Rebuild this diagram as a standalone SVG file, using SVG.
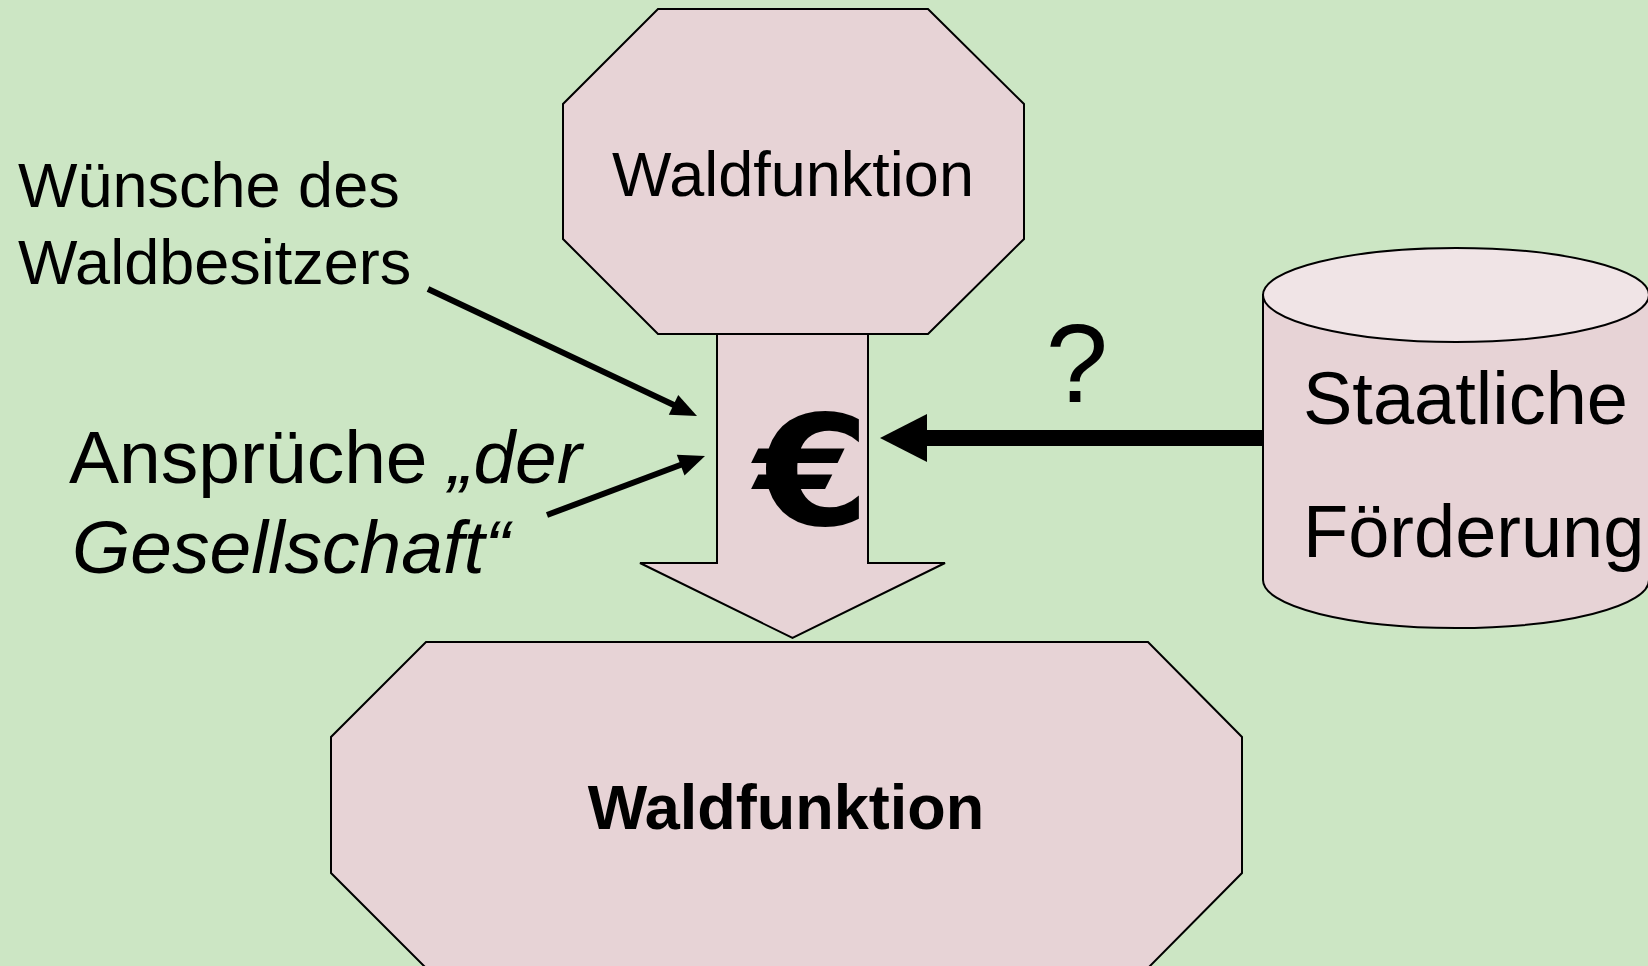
<svg xmlns="http://www.w3.org/2000/svg" width="1648" height="966" viewBox="0 0 1648 966">
<style>
.shape{fill:#E7D3D6;stroke:#000;stroke-width:2}
.top{fill:#F0E4E6;stroke:#000;stroke-width:2}
.t{font-family:"Liberation Sans",Arial,sans-serif;fill:#000}
.euro{font-family:"DejaVu Sans",sans-serif;font-weight:bold;fill:#000}
.conn{stroke:#000;stroke-width:6;fill:none}
.head{fill:#000}
</style>
<rect width="1648" height="966" fill="#CCE6C4"/>
<g id="node-waldfunktion-top">
<polygon class="shape" points="658,9 928,9 1024,104 1024,239 928,334 658,334 563,239 563,104"/>
<text class="t" x="793" y="196" font-size="63" text-anchor="middle">Waldfunktion</text>
</g>
<g id="node-arrow-euro">
<polygon class="shape" points="717,334 868,334 868,563 945,563 792.5,638 640,563 717,563"/>
<text class="euro" transform="translate(812,525) scale(1.08,1)" x="0" y="0" font-size="154" text-anchor="middle">€</text>
</g>
<g id="node-waldfunktion-bottom">
<polygon class="shape" points="426,642 1148,642 1242,737 1242,873 1148,968 426,968 331,873 331,737"/>
<text class="t" x="786" y="829" font-size="63" font-weight="bold" text-anchor="middle">Waldfunktion</text>
</g>
<g id="node-foerderung">
<path class="shape" d="M1263,295 L1263,580 A193,48 0 0 0 1649,580 L1649,295 Z"/>
<ellipse class="top" cx="1456" cy="295" rx="193" ry="47"/>
<text class="t" x="1303" y="424" font-size="74">Staatliche</text>
<text class="t" x="1303" y="557" font-size="74">Förderung</text>
</g>
<g id="label-wuensche">
<text class="t" x="18" y="207" font-size="63">Wünsche des</text>
<text class="t" x="18" y="284" font-size="63">Waldbesitzers</text>
</g>
<g id="label-ansprueche">
<text class="t" x="69" y="483" font-size="75">Ansprüche <tspan font-style="italic">„der</tspan></text>
<text class="t" x="72" y="573" font-size="75" font-style="italic">Gesellschaft“</text>
</g>
<g id="label-question">
<text class="t" x="1077" y="402" font-size="112" text-anchor="middle">?</text>
</g>
<g id="connectors">
<line class="conn" x1="428" y1="289" x2="676" y2="406"/>
<polygon class="head" points="697,416 668.8,414.8 678.2,395"/>
<line class="conn" x1="547" y1="515" x2="683" y2="464"/>
<polygon class="head" points="705,456 684.5,475.4 676.8,454.8"/>
<rect class="head" x="922" y="430" width="341" height="16"/>
<polygon class="head" points="880,438 927,414 927,462"/>
</g>
</svg>
